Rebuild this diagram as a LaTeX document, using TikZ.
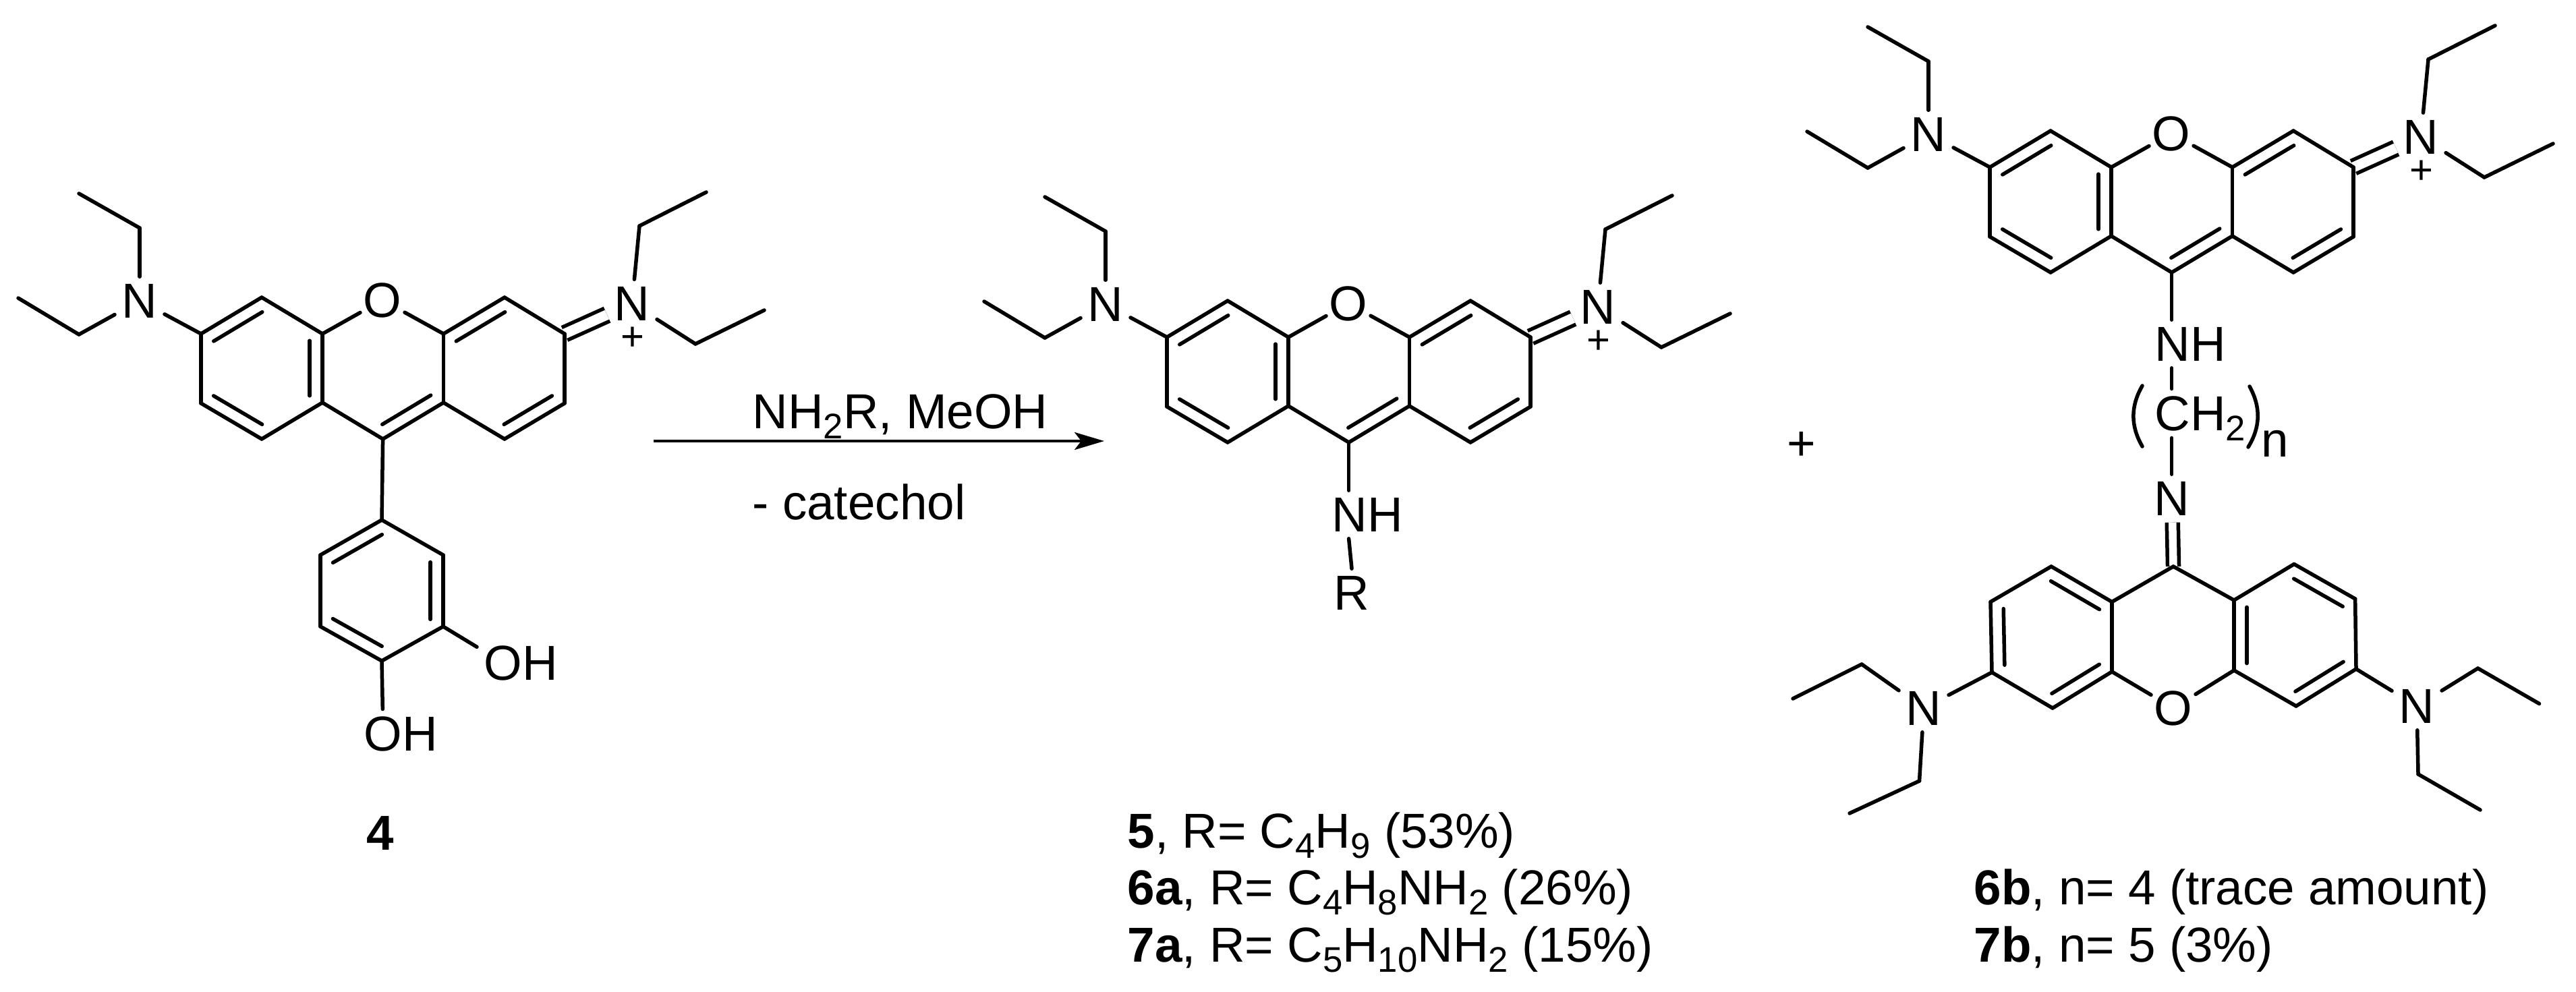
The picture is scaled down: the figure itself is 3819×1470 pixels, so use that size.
\documentclass[tikz,border=0pt]{standalone}
\usepackage{fontspec}
\setmainfont{Liberation Sans}
\usetikzlibrary{arrows.meta}
\usetikzlibrary{calc}
\usetikzlibrary{positioning}
\tikzset{bond/.style = {line width = 0.055cm, line cap = round}}
\tikzset{imine/.style = {line width = 0.055cm, double, double distance = 0.15cm}}
\tikzset{atom/.style = {inner sep = 0.1cm, font = \fontsize{20.7}{24}\selectfont}}
\tikzset{oxy/.style = {atom, inner sep = 0.04cm}}
\tikzset{chg/.style = {inner sep = 0, font = \fontsize{17}{18}\selectfont}}
\tikzset{txt/.style = {inner sep = 0, anchor = base west, font = \fontsize{20.7}{24}\selectfont}}
\newcommand{\chsub}[1]{\smash{\raisebox{-0.15cm}{\fontsize{15}{16}\selectfont #1}}}
\newcommand{\dbond}[2]{\draw [bond] ($(#1)!0.1!(#2)!0.19cm!90:(#2)$) -- ($(#1)!0.9!(#2)!0.19cm!90:(#2)$);}

\begin{document}
\begin{tikzpicture}[x = 0.01cm, y = -0.01cm]
    \useasboundingbox (0, 0) rectangle (3819, 1470);
    \foreach \k/\dx/\dy in {a/0/0, b/1432/5, c/2652/-247} {
      \begin{scope}[shift={(\dx, \dy)}]
        \foreach \n/\px/\py in {1/298/495, 2/388/441, 3/478/495, 4/478/597, 5/388/651, 6/298/598,
            9/567.6/651, 10/657.5/597, 11/657.5/495, 12/748/441, 13/837/495, 14/837/598, 15/748/651,
            21/207/338, 22/117/287, 23/117/496, 24/27/442, 25/948/335, 26/1047/285, 27/1031/510, 28/1133/460} {
          \coordinate (\k\n) at (\px, \py);
        }
        \node [atom] (\k nl) at (207, 446) {N};
        \node [oxy] (\k ox) at (567, 445) {O};
        \node [atom] (\k nr) at (937, 450) {N};
        \node [chg] (\k pl) at (938, 502) {+};
        \draw [imine] (\k13) -- (\k nr);
        \foreach \u/\v in {1/2, 2/3, 3/4, 4/5, 5/6, 6/1, 4/9, 9/10, 10/11, 10/15, 11/12, 12/13, 13/14, 14/15, 21/22, 23/24, 25/26, 27/28} {
          \draw [bond] (\k\u) -- (\k\v);
        }
        \draw [bond] (\k21) -- (\k nl);
        \draw [bond] (\k23) -- (\k nl);
        \draw [bond] (\k1) -- (\k nl);
        \draw [bond] (\k3) -- (\k ox);
        \draw [bond] (\k11) -- (\k ox);
        \draw [bond] (\k25) -- (\k nr);
        \draw [bond] (\k27) -- (\k nr);
        \foreach \u/\v in {2/1, 4/3, 6/5, 9/10, 12/11, 15/14} {
          \dbond{\k\u}{\k\v}
        }
      \end{scope}
    }

    % catechol ring of 4
    \foreach \n/\px/\py in {1/566/771, 2/475/823, 3/475/929, 4/566/980, 5/657/929, 6/657/823} {
      \coordinate (p\n) at (\px, \py);
    }
    \foreach \u/\v in {1/2, 2/3, 3/4, 4/5, 5/6, 6/1} {
      \draw [bond] (p\u) -- (p\v);
    }
    \foreach \u/\v in {1/2, 3/4, 5/6} {
      \dbond{p\u}{p\v}
    }
    \draw [bond] (a9) -- (p1);
    \node [atom] (oa) at (746, 983) {O};
    \node [atom, right=-0.11cm of oa, inner sep = 0] (ha) {H};
    \node [atom] (ob) at (568, 1088) {O};
    \node [atom, right=-0.11cm of ob, inner sep = 0] (hb) {H};
    \draw [bond] (p5) -- (oa);
    \draw [bond] (p4) -- (ob);
    \node [atom, inner sep = 0, font = \fontsize{20.7}{24}\selectfont\bfseries] (l4) at (564, 1235) {4};

    % arrow
    \node [txt] (rg1) at (1115, 635) {NH\chsub{2}R, MeOH};
    \node [txt] (rg2) at (1115, 770) {- catechol};
    \coordinate (ar1) at (969, 654);
    \coordinate (ar2) at (1637, 654);
    \draw [line width = 0.04cm, -{Stealth[length = 0.44cm, width = 0.26cm, inset = 0.1cm]}] (ar1) -- (ar2);

    % 5
    \node [atom] (nh5) at (2027, 763) {NH};
    \node [atom] (r5) at (2004, 879) {R};
    \draw [bond] (b9) -- (b9 |- nh5.north);
    \draw [bond] (b9 |- nh5.south) -- (r5.north);

    % 6b, 7b
    \node [atom] (pl) at (2671, 661) {+};
    \node [atom] (nh6) at (3247, 510) {NH};
    \node [atom, anchor = west] (ch6) at (3184, 613) {CH\chsub{2}};
    \node [atom] (ni) at (3220, 739) {N};
    \node [atom, inner sep = 0] (nn) at (3373, 658) {n};
    \draw [bond] (c9) -- (c9 |- nh6.north);
    \draw [bond] (c9 |- nh6.south) -- (c9 |- ch6.north);
    \draw [bond] (c9 |- ch6.south) -- (c9 |- ni.north);
    \coordinate (lp1) at (3176, 572);
    \coordinate (lp2) at (3176, 662);
    \coordinate (rp1) at (3335, 573);
    \coordinate (rp2) at (3333, 663);
    \draw [bond] (lp1) to [bend right = 30] (lp2);
    \draw [bond] (rp1) to [bend left = 30] (rp2);

    \foreach \n/\px/\py in {1/2953/997, 2/3043/1050, 3/3131/996, 4/3131/892.5, 5/3041/840, 6/2951/892.5,
        9/3222/840, 10/3312/890, 11/3312/994, 12/3404/1047, 13/3493/992, 14/3491.6/888, 15/3401/836.5,
        21/2760/985, 22/2658/1036, 23/2845.5/1158, 24/2742/1206, 25/3673.5/991, 26/3764.5/1043.5, 27/3585/1148, 28/3677/1201} {
      \coordinate (d\n) at (\px, \py);
    }
    \node [atom] (dnl) at (2852, 1050) {N};
    \node [oxy] (dox) at (3222, 1050) {O};
    \node [atom] (dnr) at (3583, 1047) {N};
    \draw [imine, double distance = 0.115cm] (d9) -- (ni);
    \foreach \u/\v in {1/2, 2/3, 3/4, 4/5, 5/6, 6/1, 4/9, 9/10, 10/11, 11/12, 12/13, 13/14, 14/15, 15/10, 21/22, 23/24, 25/26, 27/28} {
      \draw [bond] (d\u) -- (d\v);
    }
    \draw [bond] (d3) -- (dox);
    \draw [bond] (d11) -- (dox);
    \draw [bond] (d1) -- (dnl);
    \draw [bond] (d21) -- (dnl);
    \draw [bond] (d23) -- (dnl);
    \draw [bond] (d13) -- (dnr);
    \draw [bond] (d25) -- (dnr);
    \draw [bond] (d27) -- (dnr);
    \foreach \u/\v in {4/5, 6/1, 2/3, 10/11, 12/13, 14/15} {
      \dbond{d\u}{d\v}
    }

    % labels
    \node [txt] (l5) at (1671, 1257) {\textbf{5}, R= C\chsub{4}H\chsub{9} (53\%)};
    \node [txt] (l6a) at (1671, 1341) {\textbf{6a}, R= C\chsub{4}H\chsub{8}NH\chsub{2} (26\%)};
    \node [txt] (l7a) at (1671, 1426) {\textbf{7a}, R= C\chsub{5}H\chsub{10}NH\chsub{2} (15\%)};
    \node [txt] (l6b) at (2926, 1341) {\textbf{6b}, n= 4 (trace amount)};
    \node [txt] (l7b) at (2926, 1426) {\textbf{7b}, n= 5 (3\%)};
  \end{tikzpicture}
\end{document}
